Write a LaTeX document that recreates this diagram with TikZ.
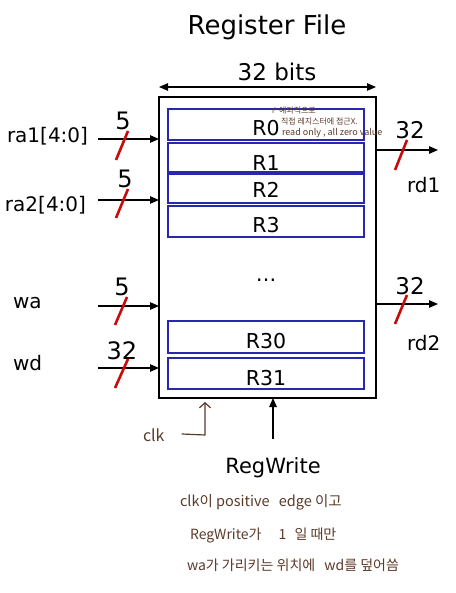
\documentclass[tikz,border=0pt]{standalone}
\usepackage{fontspec}
\setmainfont{DejaVu Sans}
\newfontfamily\kr{Noto Sans CJK KR}
\newfontfamily\dv{DejaVu Sans}
\usetikzlibrary{arrows.meta,calc}
\definecolor{hand}{RGB}{92,58,42}
\definecolor{regblue}{RGB}{40,40,175}
\definecolor{busred}{RGB}{200,10,10}
\begin{document}
\begin{tikzpicture}[x=1pt,y=-1pt,
  fs/.style={font=\fontsize{#1}{#1}\selectfont},
  txt/.style={inner sep=0pt, outer sep=0pt},
  mainbox/.style={draw, line width=1.3pt, inner sep=0pt, outer sep=0pt, anchor=north west},
  reg/.style={draw=regblue, line width=1.1pt, inner sep=0pt, outer sep=0pt, minimum width=196pt, anchor=north west},
  sig/.style={-{Triangle[length=9pt,width=7.5pt]}, line width=1.1pt},
  bus/.style={busred, line width=2.6pt},
  hnd/.style={text=hand, inner sep=0pt, outer sep=0pt},
]
\useasboundingbox (0,0) rectangle (455,593);
\fill[white] (0,0) rectangle (455,593);

% title
\node[txt, fs=26, anchor=base] (title) at (267,35) {Register File};

% width arrow
\coordinate (wl) at (159,87);
\coordinate (wr) at (376,87);
\draw[{Triangle[length=9pt,width=7.5pt]}-{Triangle[length=9pt,width=7.5pt]}, line width=1.1pt] (wl) -- (wr);
\node[txt, fs=23, anchor=base] (bits) at (277,81) {32 bits};

% main box
\node[mainbox, minimum width=217pt, minimum height=301pt] (box) at (159,97) {};

% registers
\node[reg, minimum height=31pt] (r0) at (168,109) {};
\node[reg, minimum height=29pt] (r1) at (168,143) {};
\node[reg, minimum height=29pt] (r2) at (168,174) {};
\node[reg, minimum height=31pt] (r3) at (168,206) {};
\node[reg, minimum height=32pt] (r30) at (168,321) {};
\node[reg, minimum height=31pt] (r31) at (168,358) {};
\node[txt, fs=20.5, anchor=base] (l0) at (266,136) {R0};
\node[txt, fs=20.5, anchor=base] (l1) at (266,171) {R1};
\node[txt, fs=20.5, anchor=base] (l2) at (266,198) {R2};
\node[txt, fs=20.5, anchor=base] (l3) at (266,233) {R3};
\node[txt, fs=20.5, anchor=base] (ldots) at (266,281) {…};
\node[txt, fs=20.5, anchor=base] (l30) at (266,348) {R30};
\node[txt, fs=20.5, anchor=base] (l31) at (266,385) {R31};

% annotation on R0
\node[hnd, font=\kr\fontsize{8}{8}\selectfont, anchor=west] (n1) at (271,111) {{\dv ↱}\,예외적으로};
\node[hnd, font=\kr\fontsize{8}{8}\selectfont, anchor=west] (n2) at (281,122) {직접 레지스터에 접근X.};
\node[hnd, font=\kr\fontsize{9}{9}\selectfont, anchor=west] (n3) at (282,133) {read only , all zero value};

% inputs
\node[txt, fs=20, anchor=base west] (ra1) at (7,143) {ra1[4:0]};
\node[txt, fs=20, anchor=base west] (ra2) at (5,212) {ra2[4:0]};
\node[txt, fs=20, anchor=base west] (wa) at (13,308) {wa};
\node[txt, fs=20, anchor=base west] (wd) at (13,370) {wd};
\coordinate (ia) at (98,139);
\coordinate (ib) at (98,200);
\coordinate (ic) at (98,306);
\coordinate (id) at (98,368);
\draw[sig] (ia) -- (ia -| box.west);
\draw[sig] (ib) -- (ib -| box.west);
\draw[sig] (ic) -- (ic -| box.west);
\draw[sig] (id) -- (id -| box.west);

% outputs
\coordinate (oa) at (376,150);
\coordinate (ob) at (376,304);
\coordinate (oae) at (438,150);
\coordinate (obe) at (438,304);
\draw[sig] (oa) -- (oae);
\draw[sig] (ob) -- (obe);
\node[txt, fs=20, anchor=base west] (rd1) at (407,193) {rd1};
\node[txt, fs=20, anchor=base west] (rd2) at (407,350) {rd2};

% bus width marks
\coordinate (s1a) at (116,160); \coordinate (s1b) at (128,131);
\coordinate (s2a) at (116,218); \coordinate (s2b) at (128,189);
\coordinate (s3a) at (115,325); \coordinate (s3b) at (127,297);
\coordinate (s4a) at (115,388); \coordinate (s4b) at (128,359);
\coordinate (s5a) at (395,170); \coordinate (s5b) at (407,140);
\coordinate (s6a) at (395,324); \coordinate (s6b) at (407,295);
\draw[bus] (s1a) -- (s1b);
\draw[bus] (s2a) -- (s2b);
\draw[bus] (s3a) -- (s3b);
\draw[bus] (s4a) -- (s4b);
\draw[bus] (s5a) -- (s5b);
\draw[bus] (s6a) -- (s6b);
\node[txt, fs=24, anchor=base] (w1) at (123,130) {5};
\node[txt, fs=24, anchor=base] (w2) at (125,188) {5};
\node[txt, fs=24, anchor=base] (w3) at (122,295) {5};
\node[txt, fs=24, anchor=base] (w4) at (122,359) {32};
\node[txt, fs=23, anchor=base] (w5) at (410,139) {32};
\node[txt, fs=23, anchor=base] (w6) at (410,294) {32};

% RegWrite
\node[txt, fs=21, anchor=base] (rw) at (273,473) {RegWrite};
\coordinate (rwt) at (273,439);
\draw[sig] (rwt) -- (rwt |- box.south);

% clk (handwritten)
\node[hnd, font=\kr\fontsize{16}{16}\selectfont, anchor=west] (clk) at (143,435) {clk};
\coordinate (ck1) at (182,434);
\coordinate (ck2) at (205,435);
\coordinate (ck3) at (205,402);
\draw[hand, line width=1.2pt, line cap=round, line join=round, -{Straight Barb[length=5pt,width=11pt,line width=1.2pt]}] (ck1) -- (ck2) -- (ck3);

% bottom notes
\node[hnd, font=\kr\fontsize{14.5}{14.5}\selectfont, anchor=west] (b1) at (180,502) {clk이 positive\hspace{6pt} edge 이고};
\node[hnd, font=\kr\fontsize{14}{14}\selectfont, anchor=west] (b2) at (190,535) {RegWrite가\hspace{14pt} 1\hspace{5pt} 일 때만};
\node[hnd, font=\kr\fontsize{14}{14}\selectfont, anchor=west] (b3) at (187,565) {wa가 가리키는 위치에\hspace{6pt} wd를 덮어씀};
\end{tikzpicture}
\end{document}
